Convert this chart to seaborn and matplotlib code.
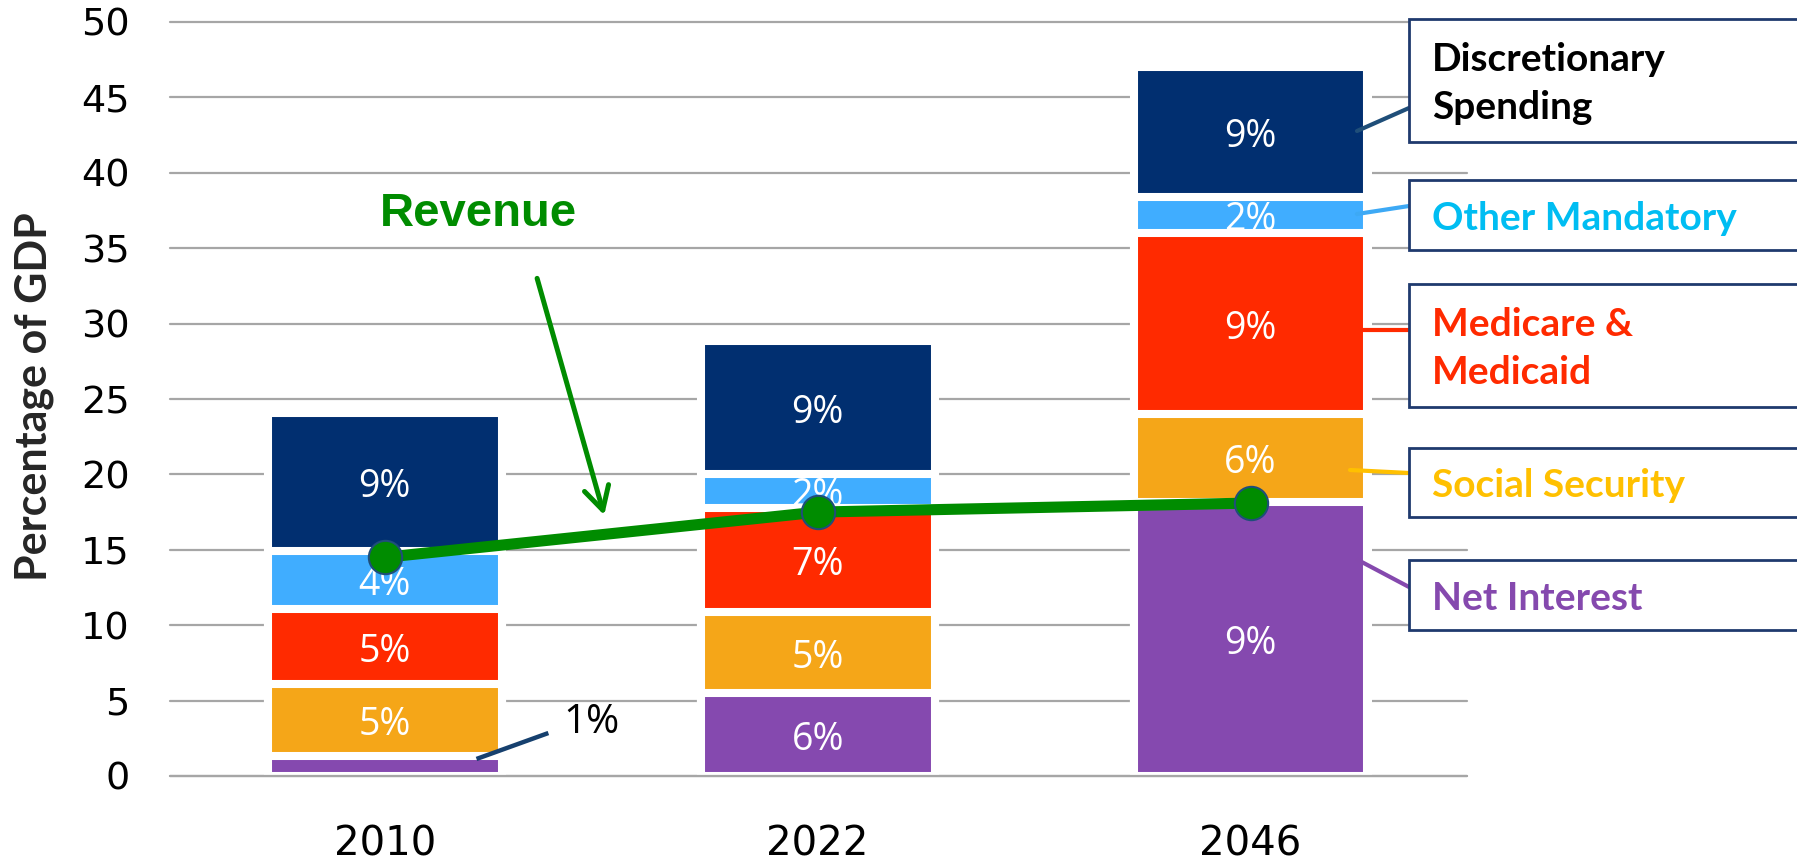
import numpy as np
import pandas as pd
import matplotlib
matplotlib.use("Agg")
import matplotlib.pyplot as plt
import seaborn as sns
from matplotlib.patches import Rectangle
from matplotlib.lines import Line2D

# ---------------- data ----------------
years = ["2010", "2022", "2046"]
net_interest = [1.3, 5.5, 18.15]
social_security = [4.8, 5.4, 5.85]
medicare_medicaid = [5.0, 6.85, 12.0]
other_mandatory = [3.8, 2.3, 2.4]
discretionary = [9.2, 8.8, 8.6]
revenue = [14.5, 17.5, 18.1]

lab_net_interest = ["", "6%", "9%"]
lab_social_security = ["5%", "5%", "6%"]
lab_medicare_medicaid = ["5%", "7%", "9%"]
lab_other_mandatory = ["4%", "2%", "2%"]
lab_discretionary = ["9%", "9%", "9%"]
outside_label = "1%"

series_names = ["Net Interest", "Social Security", "Medicare &\nMedicaid",
                "Other Mandatory", "Discretionary\nSpending"]
yticks = [0, 5, 10, 15, 20, 25, 30, 35, 40, 45, 50]

# ---------------- style ----------------
bar_colors = ["#8549AF", "#F5A618", "#FF2A00", "#40ADFF", "#012F70"]
text_colors = ["#8549AE", "#FFC000", "#FF2A00", "#00BDF2", "#000000"]
leader_colors = ["#8549AE", "#FFC000", "#FF2A00", "#3DA9F5", "#1F4E79"]
green = "#008C00"
grid_col = "#A6A6A6"

sns.set_theme(style="white")
plt.rcParams["font.family"] = ["DejaVu Sans"]

W, H = 1797, 865
fig = plt.figure(figsize=(W / 100, H / 100), dpi=100)
ax = fig.add_axes([170 / W, 1 - 776 / H, (1467 - 170) / W, (776 - 22) / H])

stack = [net_interest, social_security, medicare_medicaid, other_mandatory, discretionary]
labels = [lab_net_interest, lab_social_security, lab_medicare_medicaid,
          lab_other_mandatory, lab_discretionary]
cum = np.cumsum(np.array(stack), axis=0)

bar_w = 0.54
edge_lw = 5.8

# white halo behind bars (hides gridlines next to bars)
halo = pd.DataFrame({"year": years, "total": cum[-1]})
sns.barplot(data=halo, x="year", y="total", color="white", saturation=1,
            width=bar_w + 0.019, linewidth=0, errorbar=None, ax=ax, zorder=1)

for i in reversed(range(len(stack))):
    z = 2 + 2 * (len(stack) - 1 - i)
    df = pd.DataFrame({"year": years, "cum": cum[i]})
    sns.barplot(data=df, x="year", y="cum", color=bar_colors[i], saturation=1,
                width=bar_w, edgecolor="white", linewidth=edge_lw,
                errorbar=None, ax=ax, zorder=z)
    for j in range(len(years)):
        lab = labels[i][j]
        if lab:
            center = cum[i][j] - stack[i][j] / 2
            ax.text(j, center - 0.35, lab, color="white", fontsize=27,
                    family=["Open Sans", "DejaVu Sans"], ha="center",
                    va="center", zorder=z + 1)

# revenue line
sns.pointplot(x=years, y=revenue, color=green, markers="o", linestyles="-",
              errorbar=None, linewidth=8, markersize=24,
              markeredgecolor="#1F4E79", markeredgewidth=1.5, ax=ax, zorder=20)

ax.axhline(0, color=grid_col, lw=1.6, zorder=15, clip_on=False)

# axes formatting
ax.set_xlim(-0.496, 2.50)
ax.set_ylim(0, 50)
ax.set_yticks(yticks)
ax.set_yticklabels([str(t) for t in yticks])
ax.grid(False, axis="x")
ax.grid(True, axis="y", color=grid_col, linewidth=1.6)
ax.set_axisbelow(True)
for gl in ax.get_ygridlines():
    gl.set_clip_on(False)
for s in ax.spines.values():
    s.set_visible(False)
ax.tick_params(axis="y", length=0, pad=29, labelsize=27.5, labelcolor="black")
ax.tick_params(axis="x", length=0, pad=35, labelsize=29, labelcolor="black")
ax.set_xlabel("")
ax.set_ylabel("")

# 1% annotation
ax.text(0.478, 3.5, outside_label, color="black", fontsize=29,
        family=["Open Sans", "DejaVu Sans"], ha="center", va="center", zorder=30)
ax.plot([0.212, 0.378], [1.13, 2.85], color="#16406E", lw=3.2, zorder=30,
        solid_capstyle="butt")

# Revenue annotation
ax.text(0.216, 37.3, "Revenue", color=green, fontsize=34, fontweight="bold",
        family=["Liberation Sans", "DejaVu Sans"], ha="center", va="center",
        zorder=30)
ax.annotate("", xy=(0.507, 17.3), xytext=(0.352, 33.0),
            arrowprops=dict(arrowstyle="->,head_length=0.55,head_width=0.3",
                            color=green, lw=3.6, mutation_scale=30,
                            shrinkA=0, shrinkB=0), zorder=30)

# y label
fig.text(34 / W, 1 - 397 / H, "Percentage of GDP", rotation=90, fontsize=31,
         fontweight="bold", family=["Lato", "DejaVu Sans"], ha="center",
         va="center")

# right-hand label boxes
def fx(px):
    return px / W

def fy(py):
    return 1 - py / H

boxes = [(560, 630), (448, 517), (284, 407), (180, 250), (19.5, 142)]
leaders = [((1358, 560), (1409, 587)),
           ((1350, 470), (1409, 473)),
           ((1352, 330), (1409, 330)),
           ((1357, 214), (1409, 206)),
           ((1357, 131), (1409, 108))]
for k, name in enumerate(series_names):
    top, bot = boxes[k]
    fig.add_artist(Rectangle((fx(1409), fy(bot)), fx(W - 1409 + 30),
                             (bot - top) / H, transform=fig.transFigure,
                             facecolor="white", edgecolor="#1F3A6E", lw=2,
                             zorder=5))
    fig.text(fx(1432), fy((top + bot) / 2 + 3), name, color=text_colors[k],
             fontsize=28, fontweight="bold", family=["Lato", "DejaVu Sans"],
             ha="left", va="center", linespacing=1.45, zorder=6)
    (x0, y0), (x1, y1) = leaders[k]
    fig.add_artist(Line2D([fx(x0), fx(x1)], [fy(y0), fy(y1)],
                          transform=fig.transFigure, color=leader_colors[k],
                          lw=3, zorder=4))

fig.savefig("out.png", dpi=100)
